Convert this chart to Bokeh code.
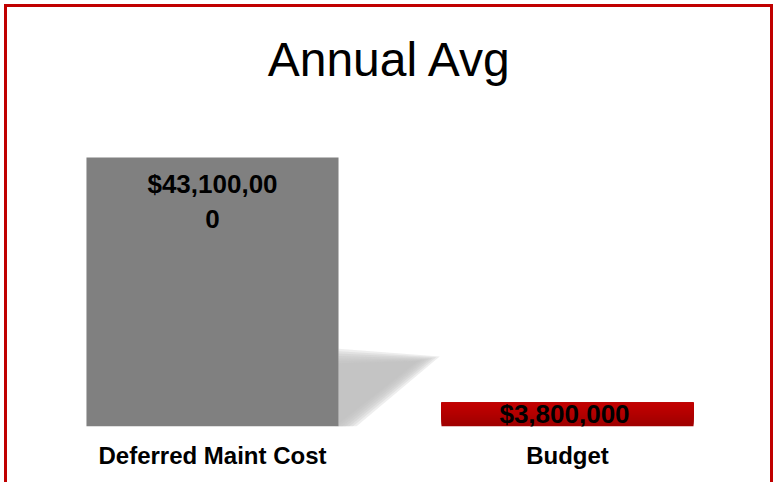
from bokeh.plotting import figure
from bokeh.models import FactorRange, Range1d
from bokeh.core.properties import value
from bokeh.embed import file_html
from bokeh.resources import INLINE

# ---- data ----
categories = ["Deferred Maint Cost", "Budget"]
amounts = [43100000, 3800000]
amount_labels = ["$43,100,00\n0", "$3,800,000"]
title_text = "Annual Avg"

FONT = "Liberation Sans"
BAR_W = 0.71
RED = "#c00000"

line = "linear-gradient(%s,%s)" % (RED, RED)
page_bg = ", ".join([
    line + " 4px 4px / 769px 3px no-repeat",
    line + " 4px 4px / 3px 100% no-repeat",
    line + " 770px 4px / 3px 100% no-repeat",
    "#ffffff",
])

p = figure(
    width=776, height=482,
    x_range=FactorRange(factors=categories, range_padding=0.0887, range_padding_units="absolute"),
    y_range=Range1d(0, 52230000),
    output_backend="svg", toolbar_location=None,
    y_axis_location=None,
    min_border_left=3, min_border_right=0, min_border_top=100, min_border_bottom=56,
    styles={"background": page_bg},
)
p.title.text = title_text
p.title.text_font = FONT
p.title.text_font_size = "48px"
p.title.text_font_style = "normal"
p.title.align = "center"
p.title.text_color = "#000000"
p.title.standoff = 30

p.xgrid.grid_line_color = None
p.ygrid.grid_line_color = None
p.outline_line_color = None
p.background_fill_alpha = 0
p.border_fill_alpha = 0

ax = p.xaxis[0]
ax.axis_line_color = None
ax.major_tick_line_color = None
ax.minor_tick_line_color = None
ax.major_tick_out = 0
ax.major_label_standoff = 15
ax.major_label_text_font = FONT
ax.major_label_text_font_style = "bold"
ax.major_label_text_font_size = "24px"
ax.major_label_text_color = "#000000"

# ---- soft shadow cast by the first bar ----
c0 = 0.5  # synthetic centre of first factor
xr = c0 + BAR_W / 2
v0 = amounts[0]
for b in [1.5, 1.0, 0.5, 0.0, -0.5, -1.0, -1.5]:
    bx = 0.02 * b
    by = 0.018 * v0 * b
    xs = [xr, xr + 0.255 + bx, xr + 0.02 + bx, xr]
    ys = [0.262 * v0 + by, 0.252 * v0 + by * 0.3, 0.0, 0.0]
    p.patch(xs, ys, fill_color="#bdbdbd", fill_alpha=0.26, line_color=None)

# ---- bars ----
p.vbar(x=[categories[0]], top=[amounts[0]], width=BAR_W, fill_color="#808080", line_color=None)

# red gradient bar: overlapping slices of the second value (no seams)
n = 12
v1 = amounts[1]
top_rgb = (0xC4, 0x00, 0x00)
bot_rgb = (0x9E, 0x00, 0x00)
for i in range(n):
    t = (i + 0.5) / n
    col = "#%02x%02x%02x" % tuple(int(round(bot_rgb[j] + (top_rgb[j] - bot_rgb[j]) * t)) for j in range(3))
    p.vbar(x=[categories[1]], bottom=[v1 * i / n], top=[v1], width=BAR_W,
           fill_color=col, line_color=None)

# ---- value labels ----
p.text(x=[categories[0]], y=[amounts[0]], text=[amount_labels[0]],
       text_font=value(FONT), text_font_style="bold", text_font_size="26px",
       text_align="center", text_baseline="top", y_offset=12, text_line_height=1.15,
       text_color="#000000")
p.text(x=[categories[1]], y=[amounts[1] / 2], text=[amount_labels[1]],
       text_font=value(FONT), text_font_style="bold", text_font_size="26px",
       text_align="center", text_baseline="middle", x_offset=-3, y_offset=-1,
       text_color="#000000")

open("out.html", "w").write(file_html(p, INLINE))
